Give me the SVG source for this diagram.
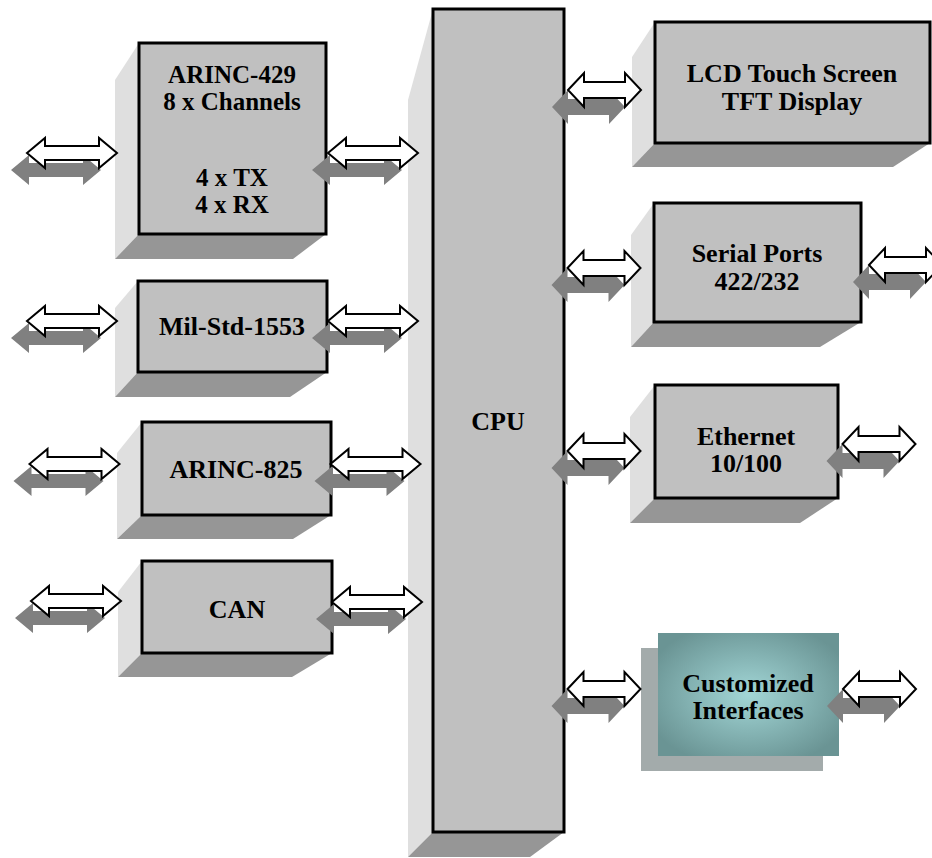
<svg xmlns="http://www.w3.org/2000/svg" xmlns:xlink="http://www.w3.org/1999/xlink" width="932" height="858" viewBox="0 0 932 858">
<style>
.front{fill:#c0c0c0;stroke:#000;stroke-width:3}
.side{fill:#dfdfdf}
.bot{fill:#969696}
.t{font-family:"Liberation Serif","Times New Roman",serif;font-weight:bold;font-size:26px;fill:#000;text-anchor:middle}
.t25{font-size:25px}
.sh{fill:#808080}
.wa{fill:#fff;stroke:#000;stroke-width:2}
</style>
<defs>
<path id="la" d="M-45,0 L-27,-15 L-27,-7 L27,-7 L27,-15 L45,0 L27,15 L27,7 L-27,7 L-27,15 Z"/>
<path id="sa" d="M-36.5,0 L-20.5,-17 L-20.5,-8 L20.5,-8 L20.5,-17 L36.5,0 L20.5,17 L20.5,8 L-20.5,8 L-20.5,17 Z"/>
<radialGradient id="teal" cx="0.5" cy="0.5" r="0.6">
<stop offset="0" stop-color="#a2d6d6"/>
<stop offset="1" stop-color="#6a9494"/>
</radialGradient>
</defs>
<rect width="932" height="858" fill="#fff"/>

<g id="arinc429">
<polygon class="side" points="139,43 115,80 115,259 139,234"/>
<polygon class="bot" points="139,234 326,234 293,259 115,259"/>
<rect class="front" x="139" y="43" width="187" height="191"/>
<text class="t t25" x="232" y="83">ARINC-429</text>
<text class="t t25" x="232" y="110">8 x Channels</text>
<text class="t t25" x="232" y="186">4 x TX</text>
<text class="t t25" x="232" y="213">4 x RX</text>
</g>

<g id="milstd1553">
<polygon class="side" points="138,281 115,308 115,397 138,372"/>
<polygon class="bot" points="138,372 327,372 290,397 115,397"/>
<rect class="front" x="138" y="281" width="189" height="91"/>
<text class="t" x="232" y="335">Mil-Std-1553</text>
</g>

<g id="arinc825">
<polygon class="side" points="142,422 117,453 117,539 142,515"/>
<polygon class="bot" points="142,515 331,515 293,539 117,539"/>
<rect class="front" x="142" y="422" width="189" height="93"/>
<text class="t" x="236" y="478">ARINC-825</text>
</g>

<g id="can">
<polygon class="side" points="142,561 118,592 118,677 142,653"/>
<polygon class="bot" points="142,653 332,653 292,677 118,677"/>
<rect class="front" x="142" y="561" width="190" height="92"/>
<text class="t" x="237" y="618">CAN</text>
</g>

<g id="cpu">
<polygon class="side" points="433,9 408,100 408,857 433,832"/>
<polygon class="bot" points="433,832 564,832 530,857 408,857"/>
<rect class="front" x="433" y="9" width="131" height="823"/>
<text class="t" x="498" y="430">CPU</text>
</g>

<g id="lcd">
<polygon class="side" points="655,22 632,57 632,167 655,143"/>
<polygon class="bot" points="655,143 930,143 893,167 632,167"/>
<rect class="front" x="655" y="22" width="275" height="121"/>
<text class="t" x="792" y="82">LCD Touch Screen</text>
<text class="t" x="792" y="110">TFT Display</text>
</g>

<g id="serial">
<polygon class="side" points="654,203 631,235 631,347 654,322"/>
<polygon class="bot" points="654,322 861,322 820,347 631,347"/>
<rect class="front" x="654" y="203" width="207" height="119"/>
<text class="t" x="757" y="262">Serial Ports</text>
<text class="t" x="757" y="290">422/232</text>
</g>

<g id="ethernet">
<polygon class="side" points="655,385 630,417 630,523 655,498"/>
<polygon class="bot" points="655,498 838,498 800,523 630,523"/>
<rect class="front" x="655" y="385" width="183" height="113"/>
<text class="t" x="746" y="445">Ethernet</text>
<text class="t" x="746" y="472">10/100</text>
</g>

<g id="custom">
<rect x="641" y="648" width="182" height="123" fill="#a3abab"/>
<rect x="658" y="633" width="181" height="123" fill="url(#teal)"/>
<text class="t" x="748" y="692">Customized</text>
<text class="t" x="748" y="719">Interfaces</text>
</g>

<g id="connectors">
<g transform="translate(72,153)"><use href="#la" xlink:href="#la" class="sh" transform="translate(-16,17)"/><use href="#la" xlink:href="#la" class="wa"/></g>
<g transform="translate(373,153)"><use href="#la" xlink:href="#la" class="sh" transform="translate(-16,17)"/><use href="#la" xlink:href="#la" class="wa"/></g>
<g transform="translate(72,321)"><use href="#la" xlink:href="#la" class="sh" transform="translate(-16,17)"/><use href="#la" xlink:href="#la" class="wa"/></g>
<g transform="translate(373,321)"><use href="#la" xlink:href="#la" class="sh" transform="translate(-16,17)"/><use href="#la" xlink:href="#la" class="wa"/></g>
<g transform="translate(74.5,464)"><use href="#la" xlink:href="#la" class="sh" transform="translate(-16,17)"/><use href="#la" xlink:href="#la" class="wa"/></g>
<g transform="translate(375.5,464)"><use href="#la" xlink:href="#la" class="sh" transform="translate(-16,17)"/><use href="#la" xlink:href="#la" class="wa"/></g>
<g transform="translate(76,601)"><use href="#la" xlink:href="#la" class="sh" transform="translate(-16,17)"/><use href="#la" xlink:href="#la" class="wa"/></g>
<g transform="translate(377,602)"><use href="#la" xlink:href="#la" class="sh" transform="translate(-16,17)"/><use href="#la" xlink:href="#la" class="wa"/></g>
<g transform="translate(604.5,90)"><use href="#sa" xlink:href="#sa" class="sh" transform="translate(-16,17)"/><use href="#sa" xlink:href="#sa" class="wa"/></g>
<g transform="translate(604,268)"><use href="#sa" xlink:href="#sa" class="sh" transform="translate(-16,17)"/><use href="#sa" xlink:href="#sa" class="wa"/></g>
<g transform="translate(905.5,265)"><use href="#sa" xlink:href="#sa" class="sh" transform="translate(-16,17)"/><use href="#sa" xlink:href="#sa" class="wa"/></g>
<g transform="translate(604,451)"><use href="#sa" xlink:href="#sa" class="sh" transform="translate(-16,17)"/><use href="#sa" xlink:href="#sa" class="wa"/></g>
<g transform="translate(879,444)"><use href="#sa" xlink:href="#sa" class="sh" transform="translate(-16,17)"/><use href="#sa" xlink:href="#sa" class="wa"/></g>
<g transform="translate(604,689)"><use href="#sa" xlink:href="#sa" class="sh" transform="translate(-16,17)"/><use href="#sa" xlink:href="#sa" class="wa"/></g>
<g transform="translate(879.5,689)"><use href="#sa" xlink:href="#sa" class="sh" transform="translate(-16,17)"/><use href="#sa" xlink:href="#sa" class="wa"/></g>
</g>
</svg>
